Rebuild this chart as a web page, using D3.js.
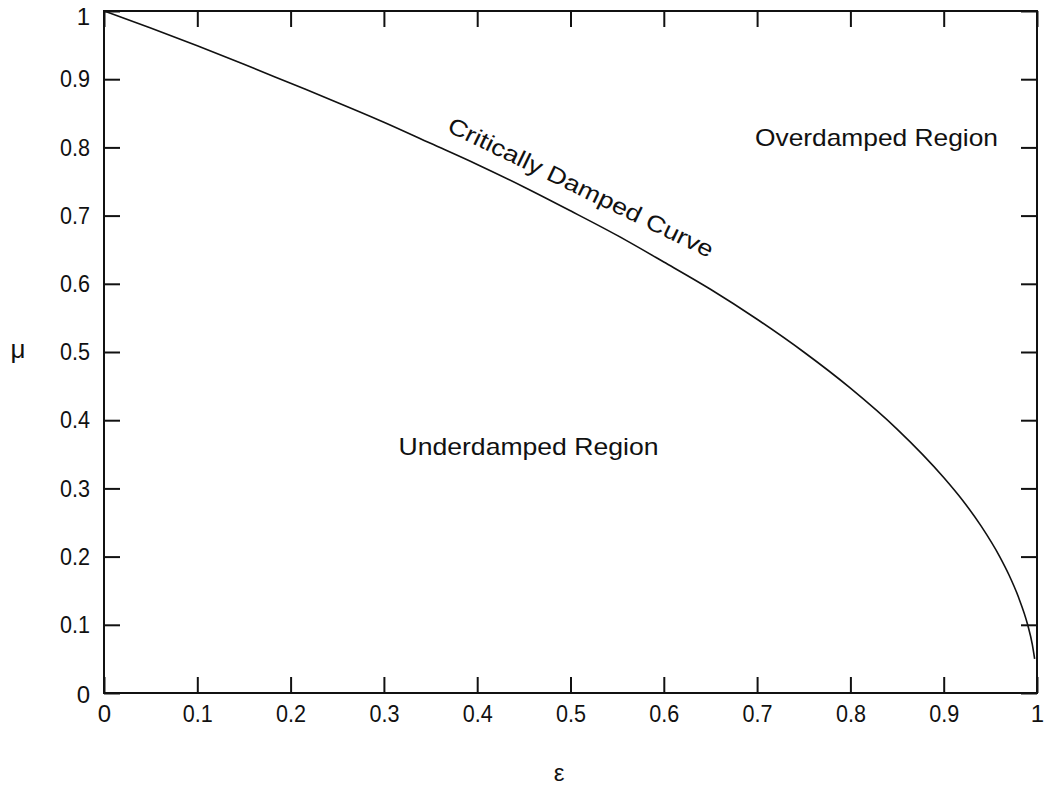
<!DOCTYPE html>
<html>
<head>
<meta charset="utf-8">
<script src="https://cdn.jsdelivr.net/npm/d3@7/dist/d3.min.js"></script>
<style>
  html, body { margin: 0; padding: 0; background: #fff; }
  svg { display: block; }
  text { font-family: "Liberation Sans", Arial, sans-serif; fill: #111; }
</style>
</head>
<body>
<svg id="chart" width="1045" height="788"></svg>
<script>
// ---- data ----
const epsilon = [0, 0.05, 0.1, 0.15, 0.2, 0.25, 0.3, 0.35, 0.4, 0.45, 0.5, 0.55, 0.6, 0.65, 0.7, 0.75, 0.8, 0.85, 0.9, 0.92, 0.94, 0.96, 0.97, 0.98, 0.99, 0.995, 0.9975];
const mu      = [1, 0.975, 0.949, 0.922, 0.894, 0.866, 0.837, 0.806, 0.775, 0.742, 0.707, 0.671, 0.632, 0.592, 0.548, 0.5, 0.447, 0.387, 0.316, 0.283, 0.245, 0.2, 0.173, 0.141, 0.1, 0.071, 0.05];
const xTicks = [0, 0.1, 0.2, 0.3, 0.4, 0.5, 0.6, 0.7, 0.8, 0.9, 1];
const yTicks = [0, 0.1, 0.2, 0.3, 0.4, 0.5, 0.6, 0.7, 0.8, 0.9, 1];
const curveLabel = "Critically Damped Curve";
const regionLabels = [
  { text: "Overdamped Region", e: 0.828, m: 0.811, w: 243 },
  { text: "Underdamped Region", e: 0.455, m: 0.358, w: 260 }
];
const xTitle = "ε", yTitle = "μ";

// ---- layout ----
const svg = d3.select("#chart");
const mLeft = 104, mRight = 1037, mTop = 11, mBottom = 693;
const x = d3.scaleLinear().domain([0, 1]).range([mLeft, mRight]);
const y = d3.scaleLinear().domain([0, 1]).range([mBottom, mTop]);
const tickLen = 16;
const fmt = d => d === 0 ? "0" : d === 1 ? "1" : d3.format(".1f")(d);

// frame
svg.append("rect")
  .attr("x", mLeft).attr("y", mTop)
  .attr("width", mRight - mLeft).attr("height", mBottom - mTop)
  .attr("fill", "none").attr("stroke", "#111").attr("stroke-width", 2);

// axes with inward ticks
const axB = d3.axisBottom(x).tickValues(xTicks).tickSize(-tickLen).tickPadding(12).tickFormat(fmt);
const axT = d3.axisTop(x).tickValues(xTicks).tickSize(-tickLen).tickFormat("");
const axL = d3.axisLeft(y).tickValues(yTicks).tickSize(-tickLen).tickPadding(14).tickFormat(fmt);
const axR = d3.axisRight(y).tickValues(yTicks).tickSize(-tickLen).tickFormat("");

function styleAxis(g) {
  g.select(".domain").remove();
  g.selectAll(".tick line").attr("stroke", "#111").attr("stroke-width", 2);
  g.selectAll(".tick text").attr("fill", "#111").style("font-size", "24px")
    .style("font-family", "'Liberation Sans', Arial, sans-serif")
    .each(function() {
      const t = d3.select(this);
      if (t.text().length === 3) t.attr("textLength", 30).attr("lengthAdjust", "spacingAndGlyphs");
    });
}
svg.append("g").attr("transform", `translate(0,${mBottom})`).call(axB).call(styleAxis);
svg.append("g").attr("transform", `translate(0,${mTop})`).call(axT).call(styleAxis);
const gL = svg.append("g").attr("transform", `translate(${mLeft},0)`).call(axL).call(styleAxis);
svg.append("g").attr("transform", `translate(${mRight},0)`).call(axR).call(styleAxis);
// top y label sits slightly lower (kept inside the page), as in the reference
gL.selectAll(".tick").filter(d => d === 1).select("text").attr("y", 6);
gL.selectAll(".tick").filter(d => d === 0).select("text").attr("y", 2);

// curve
const pts = epsilon.map((e, i) => [e, mu[i]]);
svg.append("path")
  .datum(pts)
  .attr("fill", "none")
  .attr("stroke", "#111")
  .attr("stroke-width", 1.6)
  .attr("d", d3.line().x(d => x(d[0])).y(d => y(d[1])).curve(d3.curveMonotoneX));

// curve label, rotated along curve
svg.append("text")
  .attr("transform", `translate(446,131) rotate(25.8)`)
  .attr("text-anchor", "start")
  .style("font-size", "23px")
  .attr("textLength", 292)
  .attr("lengthAdjust", "spacingAndGlyphs")
  .text(curveLabel);

// region labels
svg.selectAll("text.region")
  .data(regionLabels)
  .enter().append("text")
  .attr("class", "region")
  .attr("x", d => x(d.e))
  .attr("y", d => y(d.m))
  .attr("text-anchor", "middle")
  .attr("dominant-baseline", "middle")
  .style("font-size", "24px")
  .attr("textLength", d => d.w)
  .attr("lengthAdjust", "spacingAndGlyphs")
  .text(d => d.text);

// axis titles
svg.append("text").attr("x", 559).attr("y", 781)
  .attr("text-anchor", "middle").style("font-size", "24px").text(xTitle);
svg.append("text").attr("x", 18).attr("y", 358)
  .attr("text-anchor", "middle").style("font-size", "26px").text(yTitle);
</script>
</body>
</html>
